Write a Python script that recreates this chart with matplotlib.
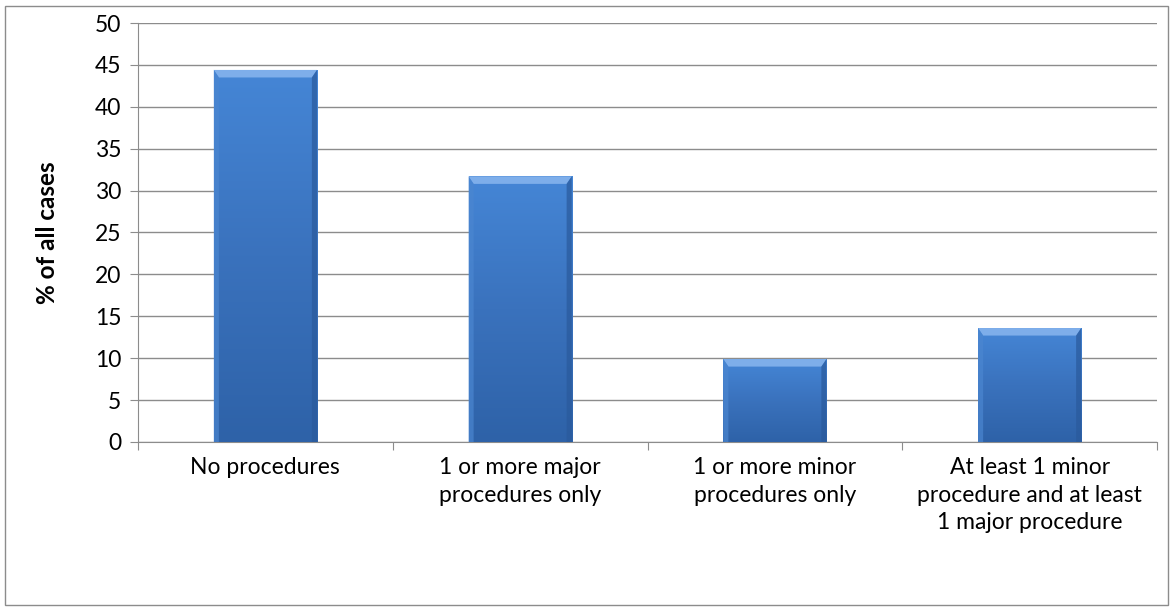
import numpy as np
import matplotlib.pyplot as plt
from matplotlib.patches import Polygon, Rectangle
from matplotlib.colors import LinearSegmentedColormap

plt.rcParams['font.family'] = ['Lato', 'DejaVu Sans']

categories = ['No procedures', '1 or more major\nprocedures only',
              '1 or more minor\nprocedures only',
              'At least 1 minor\nprocedure and at least\n1 major procedure']
values = [44.4, 31.7, 9.9, 13.6]
yticks = list(range(0, 51, 5))

fig = plt.figure(figsize=(11.74, 6.08), dpi=100)
ax = fig.add_axes([138 / 1174, 1 - 442 / 608, (1157 - 138) / 1174, (442 - 23) / 608])

# outer border like the Excel chart area
fig.patches.append(Rectangle((5 / 1174, 3 / 608), 1163 / 1174, 599 / 608,
                             transform=fig.transFigure, fill=False,
                             edgecolor='#8c8c8c', linewidth=1))

x = np.arange(len(categories))
width = 0.405
bars = ax.bar(x, values, width=width, color='#3b74c0', zorder=3)

grad = np.linspace(0, 1, 256).reshape(-1, 1)
cmap = LinearSegmentedColormap.from_list('b', ['#2e62a8', '#3a72bd', '#4586d6'])
bx = 0.02  # bevel width in data units (x)
by = 0.9   # bevel height in data units (y)
for b in bars:
    x0, w, h = b.get_x(), b.get_width(), b.get_height()
    im = ax.imshow(grad, extent=(x0, x0 + w, 0, h), origin='lower', cmap=cmap,
                   aspect='auto', zorder=4)
    im.set_clip_path(b)
    x1 = x0 + w
    # top bevel highlight
    ax.add_patch(Polygon([(x0, h), (x1, h), (x1 - bx, h - by), (x0 + bx, h - by)],
                         closed=True, facecolor='#7eaeea', edgecolor='none', zorder=5))
    # left side
    ax.add_patch(Polygon([(x0, 0), (x0, h), (x0 + bx, h - by), (x0 + bx, 0)],
                         closed=True, facecolor='#4b86d0', edgecolor='none', alpha=0.7, zorder=5))
    # right side
    ax.add_patch(Polygon([(x1, 0), (x1, h), (x1 - bx, h - by), (x1 - bx, 0)],
                         closed=True, facecolor='#2a5a9c', edgecolor='none', alpha=0.7, zorder=5))

ax.set_xlim(-0.5, len(categories) - 0.5)
ax.set_ylim(0, 50)
ax.set_yticks(yticks)
ax.yaxis.grid(True, color='#8c8c8c', linewidth=1, zorder=0)
ax.set_axisbelow(True)

ax.set_xticks(np.arange(-0.5, len(categories), 1))
ax.set_xticklabels([])
ax.set_xticks(x, minor=True)
ax.set_xticklabels(categories, minor=True, fontsize=16.5, linespacing=1.38, va='top')
ax.tick_params(axis='x', which='minor', length=0, pad=11)
ax.tick_params(axis='x', which='major', length=6, color='#8c8c8c')
ax.tick_params(axis='y', length=6, color='#8c8c8c', labelsize=16.5, pad=6)

for s in ['top', 'right']:
    ax.spines[s].set_visible(False)
for s in ['left', 'bottom']:
    ax.spines[s].set_color('#8c8c8c')

ax.set_ylabel('% of all cases', fontsize=17.5, fontweight='bold')
ax.yaxis.set_label_coords(-0.078, 0.5)

fig.savefig('out.png', dpi=100)
